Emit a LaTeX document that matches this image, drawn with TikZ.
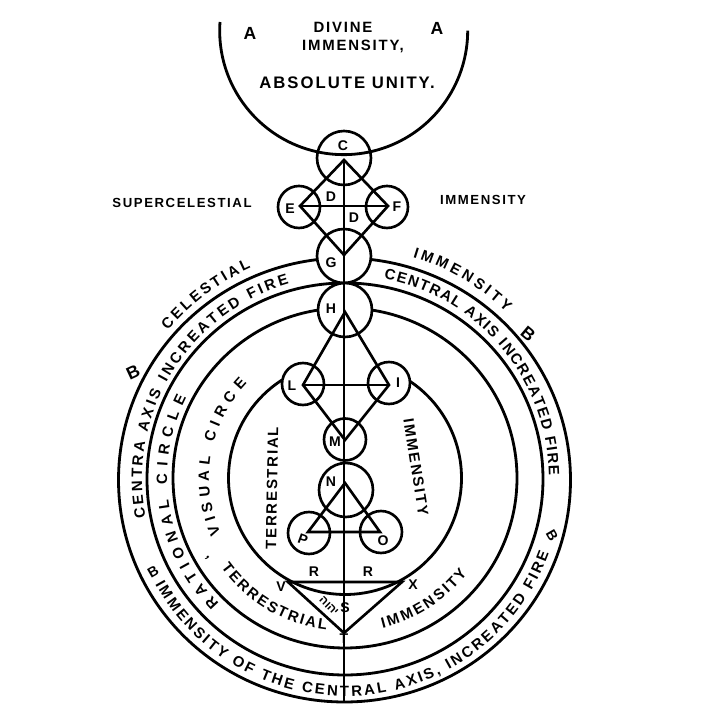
\documentclass[tikz,border=0pt]{standalone}
\usepackage{fontspec}
\setmainfont{Liberation Sans}
\newfontfamily\handfont[LetterSpace=12]{Liberation Sans}
\newfontfamily\hebfont[Script=Hebrew]{Liberation Sans}
\TeXXeTstate=1
\usetikzlibrary{decorations.text}
\newcommand{\arcfont}{\bfseries\fontsize{8.5}{10}\selectfont}

\begin{document}
\begin{tikzpicture}[
  x=0.02cm, y=0.02cm,
  ring/.style={line width=1.6pt, draw=black},
  ln/.style={line width=1.5pt, draw=black},
  sphere/.style={circle, draw=black, fill=white, line width=1.5pt, inner sep=0pt, minimum size=1.08cm},
  orb/.style={sphere, minimum size=0.84cm},
  ltr/.style={font=\bfseries\fontsize{8}{9}\selectfont, inner sep=0pt},
  ttl/.style={font=\handfont\bfseries\fontsize{8.5}{10}\selectfont, inner sep=0pt},
  side/.style={font=\handfont\bfseries\fontsize{7.5}{9}\selectfont, inner sep=0pt},
  arctext/.style={decorate, decoration={text along path, text align=fit to path, text={|\arcfont|#1}}},
]
\useasboundingbox (0,0) rectangle (720,720);

\coordinate (ctr) at (345,241);
\coordinate (cin) at (345,242);

% ---------- rings ----------
\draw[ring] (344.5,240) ellipse [x radius=226, y radius=222];
\draw[ring] (345,241) ellipse [x radius=198, y radius=196];
\draw[ring] (cin) ellipse [x radius=172, y radius=170];
\draw[ring] ([shift={(cin)}]123:116.5) arc [start angle=123, end angle=416, radius=116.5];

% ---------- spheres ----------
\node[sphere] (C) at (344,562) {};
\node[orb] (E) at (299,513) {};
\node[orb] (F) at (387,513) {};
\node[sphere] (G) at (344,464) {};
\node[sphere] (H) at (345,410) {};
\node[orb] (L) at (303,336) {};
\node[orb] (I) at (389,337) {};
\node[orb] (M) at (345,280.5) {};
\node[sphere] (N) at (346,230) {};
\node[orb] (P) at (309,187) {};
\node[orb] (O) at (381,188) {};

% ---------- top bowl ----------
\draw[ring] (220,698) arc [start angle=176, end angle=360, radius=124];

% ---------- axis and triangles ----------
\coordinate (aC) at (344,560);
\coordinate (aE) at (300,514);
\coordinate (aF) at (388,514);
\coordinate (aG) at (344,465);
\coordinate (aH) at (345,408);
\coordinate (aL) at (303,335);
\coordinate (aI) at (389,335);
\coordinate (aM) at (345,280);
\coordinate (aN) at (345,237);
\coordinate (aP) at (308,188);
\coordinate (aO) at (380,188);
\coordinate (aV) at (288,138);
\coordinate (aX) at (402,138);
\coordinate (aT) at (344,87);
\coordinate (aEnd) at (344,18);

\draw[ln] (aC) -- (aEnd);
\draw[ln] (aC) -- (aE) -- (aG) -- (aF) -- cycle;
\draw[ln] (aE) -- (aF);
\draw[ln] (aH) -- (aL) -- (aM) -- (aI) -- cycle;
\draw[ln] (aL) -- (aI);
\draw[ln] (aN) -- (aP) -- (aO) -- cycle;
\draw[ln] (aV) -- (aX) -- (aT) -- cycle;

% ---------- letters ----------
\node[ltr] (lC) at (343,574) {C};
\node[ltr] (lD) at (331,523) {D};
\node[ltr] (lDb) at (354,502) {D};
\node[ltr] (lE) at (290,511) {E};
\node[ltr] (lF) at (397,513) {F};
\node[ltr] (lG) at (331,457) {G};
\node[ltr] (lH) at (331,411) {H};
\node[ltr] (lL) at (292,334) {L};
\node[ltr] (lI) at (398,337) {I};
\node[ltr] (lM) at (335,278) {M};
\node[ltr] (lN) at (331,238) {N};
\node[ltr, rotate=-20] (lP) at (303,180) {P};
\node[ltr] (lO) at (383,179) {O};
\node[ltr] (lR) at (314,148) {R};
\node[ltr] (lRb) at (368,148) {R};
\node[ltr] (lV) at (281,133) {V};
\node[ltr] (lX) at (413,135) {X};
\node[ltr] (lS) at (345,112) {S};
\node[ltr] (lT) at (344,81) {T};
\node[ltr, rotate=-45, font=\hebfont\bfseries\fontsize{6.5}{7}\selectfont] (heb) at (329,114) {\beginR יהוה\endR};

% ---------- straight texts ----------
\node[ltr, font=\bfseries\fontsize{10}{12}\selectfont] (aL1) at (250,687) {A};
\node[ltr, font=\bfseries\fontsize{10}{12}\selectfont] (aR1) at (437,692) {A};
\node[ttl] (divine) at (343,693) {DIVINE};
\node[ttl] (immen) at (353,674) {IMMENSITY,};
\node[ttl, font=\handfont\bfseries\fontsize{9.5}{11}\selectfont] (unity) at (347,637) {ABSOLUTE UNITY.};
\node[side] (super) at (182,517) {SUPERCELESTIAL};
\node[side] (immr) at (483,520) {IMMENSITY};
\node[ttl, rotate=89] (terr) at (272,232) {TERRESTRIAL};
\node[ttl, rotate=-81] (immi) at (416,253) {IMMENSITY};
\node[ltr, font=\bfseries\fontsize{10}{12}\selectfont, rotate=25] (bL) at (133,348) {B};
\node[ltr, font=\bfseries\fontsize{10}{12}\selectfont, rotate=-40] (bR) at (528,386) {B};
\node[ltr, rotate=30] (bLL) at (153,148) {B};
\node[ltr, rotate=-60] (bLR) at (552,185) {B};
\node[ltr, rotate=-50] (comma) at (207,162) {,};

% ---------- curved texts ----------
\path[arctext={CENTRA AXIS INCREATED FIRE}] ([shift={(ctr)}]191:203) arc [start angle=191, end angle=106, radius=203];
\path[arctext={CELESTIAL}] ([shift={(ctr)}]140:231) arc [start angle=140, end angle=114, radius=231];
\path[arctext={IMMENSITY}] ([shift={(ctr)}]73:232) arc [start angle=73, end angle=46, radius=232];
\path[arctext={CENTRAL AXIS INCREATED FIRE}] ([shift={(ctr)}]79:204) arc [start angle=79, end angle=1, radius=204];
\path[arctext={IMMENSITY OF THE CENTRAL AXIS, INCREATED FIRE}] ([shift={(ctr)}]209:217) arc [start angle=209, end angle=340, radius=217];
\path[arctext={RATIONAL}] ([shift={(cin)}]225:178) arc [start angle=225, end angle=187, radius=178];
\path[arctext={CIRCLE}] ([shift={(cin)}]182:178) arc [start angle=182, end angle=153, radius=178];
\path[arctext={VISUAL}] ([shift={(cin)}]204:136) arc [start angle=204, end angle=171, radius=136];
\path[arctext={CIRCE}] ([shift={(cin)}]165:136) arc [start angle=165, end angle=136, radius=136];
\path[arctext={TERRESTRIAL}] ([shift={(cin)}]216:153) arc [start angle=216, end angle=263, radius=153];
\path[arctext={IMMENSITY}] ([shift={(cin)}]284:155) arc [start angle=284, end angle=322, radius=155];

\end{tikzpicture}
\end{document}
